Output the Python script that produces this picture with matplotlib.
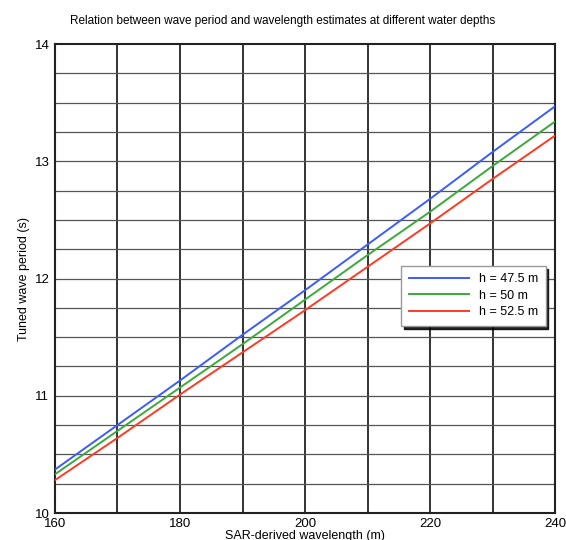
import matplotlib
matplotlib.use("Agg")
import matplotlib.pyplot as plt

plt.rcParams['font.family'] = ['Liberation Sans', 'DejaVu Sans']

wavelength = [160, 170, 180, 190, 200, 210, 220, 230, 240]
period_h475 = [10.37, 10.75, 11.13, 11.52, 11.90, 12.29, 12.68, 13.08, 13.47]
period_h50 = [10.33, 10.70, 11.07, 11.44, 11.82, 12.20, 12.57, 12.96, 13.34]
period_h525 = [10.28, 10.64, 11.01, 11.37, 11.73, 12.10, 12.47, 12.85, 13.22]
labels = ["h = 47.5 m", "h = 50 m", "h = 52.5 m"]
colors = ["#3a5cff", "#3aaa3a", "#ff3a22"]

xticks = [160, 180, 200, 220, 240]
yticks = [10, 11, 12, 13, 14]

fig = plt.figure(figsize=(5.66, 5.40), dpi=100)
ax = fig.add_axes([0.097, 0.05, 0.884, 0.8685])

for y, lab, c in zip([period_h475, period_h50, period_h525], labels, colors):
    ax.plot(wavelength, y, color=c, lw=1.4, label=lab, zorder=3)

ax.set_xlim(160, 240)
ax.set_ylim(10, 14)

# grid
for xv in range(160, 241, 10):
    ax.axvline(xv, color="#111111", lw=1.2, zorder=1)
for i in range(1, 16):
    ax.axhline(10 + 0.25 * i, color="#555555", lw=0.9, zorder=1)

ax.set_xticks(xticks)
ax.set_yticks(yticks)
ax.tick_params(length=0, labelsize=9.5, pad=3)
ax.tick_params(axis='x', pad=3.6)
ax.tick_params(axis='y', pad=4)
for lbl in ax.get_yticklabels():
    lbl.set_verticalalignment('center_baseline')
for s in ax.spines.values():
    s.set_linewidth(1.5)
    s.set_color("#222222")

ax.set_xlabel("SAR-derived wavelength (m)", fontsize=9, labelpad=0)
ax.set_ylabel("Tuned wave period (s)", fontsize=9, labelpad=3)
fig.text(0.5, 0.961, "Relation between wave period and wavelength estimates at different water depths",
         fontsize=8.5, ha='center', va='center')

leg = ax.legend(loc='upper left', bbox_to_anchor=(0.68, 0.54), fontsize=9,
                handlelength=4.8, fancybox=False,
                shadow={'color': 'black', 'alpha': 0.85}, framealpha=1,
                edgecolor="#999999", borderpad=0.6, labelspacing=0.35)
leg.set_zorder(5)

fig.savefig("out.png", dpi=100)
